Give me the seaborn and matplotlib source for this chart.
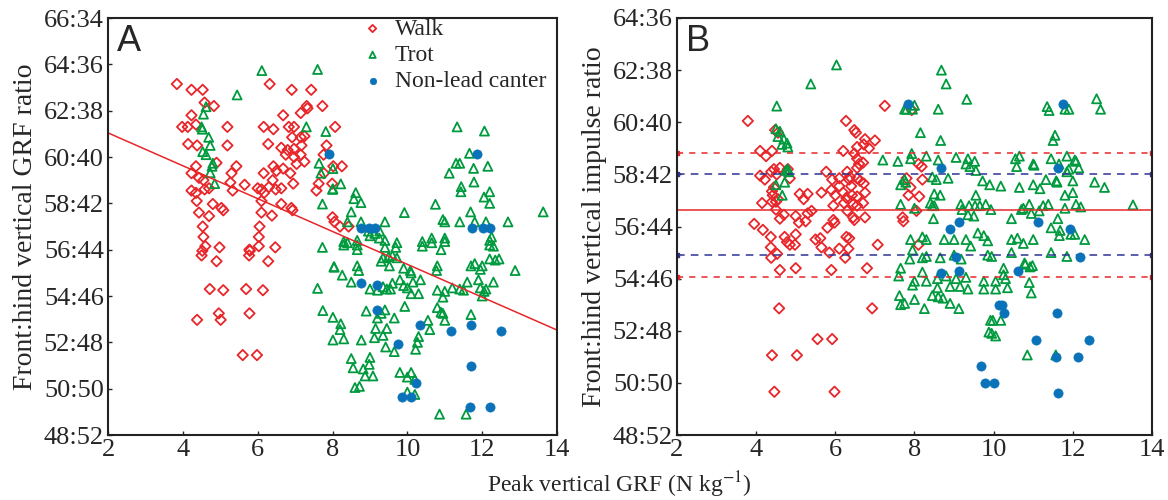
import matplotlib
matplotlib.use("Agg")
import matplotlib.pyplot as plt
import pandas as pd
import seaborn as sns

# ---- panel A: front:hind vertical GRF ratio (front %) ----
walk_a = [
    (3.84, 63.15), (4.23, 62.9), (4.53, 62.9), (6.32, 63.15), (6.91, 62.9), (7.43, 62.9),
    (4.58, 62.35), (4.83, 62.2), (7.73, 62.2), (7.33, 62.1), (7.15, 61.9), (6.68, 61.8),
    (4.23, 61.8), (3.98, 61.3), (4.13, 61.3), (4.35, 61.4), (5.19, 61.3), (6.16, 61.3),
    (6.42, 61.2), (6.83, 61.3), (6.97, 61.3), (8.07, 61.3), (6.92, 60.85), (7.15, 60.85),
    (7.25, 60.9), (4.14, 60.56), (4.38, 60.5), (5.19, 60.5), (6.28, 60.56), (6.63, 60.4),
    (6.8, 60.3), (6.97, 60.35), (7.17, 60.5), (6.75, 60.1), (6.97, 60.0), (7.15, 60.1),
    (7.84, 60.5), (7.76, 60.1), (4.9, 59.75), (5.43, 59.6), (4.35, 59.6), (4.23, 59.3),
    (4.43, 59.1), (4.55, 59.0), (5.3, 59.3), (5.27, 58.9), (5.65, 58.8), (5.33, 58.55),
    (6.16, 59.3), (6.42, 59.6), (6.5, 59.4), (6.68, 59.5), (6.87, 59.3), (6.95, 58.85),
    (7.04, 59.7), (7.25, 59.8), (6.4, 59.0), (6.63, 58.65), (6.48, 58.6), (6.3, 58.7),
    (6.1, 58.6), (6.0, 58.65), (6.17, 58.45), (6.1, 58.1), (4.23, 58.55), (4.35, 58.45),
    (4.58, 58.6), (4.7, 58.65), (4.37, 58.1), (4.8, 57.97), (5.03, 57.8), (5.08, 57.7),
    (4.43, 57.6), (4.7, 57.45), (6.63, 57.97), (6.9, 57.8), (6.93, 57.7), (6.38, 57.47),
    (6.1, 57.6), (7.57, 58.55), (7.63, 58.85), (8.0, 57.4), (8.05, 57.2), (4.53, 57.0),
    (6.05, 57.0), (4.55, 56.55), (6.03, 56.55), (4.6, 56.15), (4.98, 56.1), (5.78, 56.0),
    (6.03, 56.15), (6.47, 56.1), (4.52, 55.95), (4.5, 55.75), (5.79, 55.95), (5.77, 55.75),
    (4.9, 55.5), (6.28, 55.5), (4.72, 54.3), (5.08, 54.25), (5.69, 54.3), (6.14, 54.25),
    (4.96, 53.25), (5.01, 52.97), (4.38, 52.97), (5.78, 53.25), (5.6, 51.45), (5.98, 51.45),
    (7.31, 62.2), (8.02, 59.6), (8.25, 59.6), (7.77, 59.3), (7.99, 58.85), (8.2, 57.0),
    (8.43, 57.0),
]
trot_a = [
    (6.11, 63.73), (7.6, 63.78), (5.45, 62.68), (4.62, 62.17), (4.55, 61.85), (4.5, 61.3),
    (4.52, 61.2), (7.3, 61.3), (7.82, 61.1), (4.69, 60.85), (4.73, 60.5), (4.53, 60.23),
    (4.62, 60.1), (4.8, 59.73), (4.78, 59.6), (4.73, 59.32), (4.85, 58.85), (7.64, 59.73),
    (7.69, 59.3), (8.01, 59.5), (8.01, 58.63), (7.73, 57.97), (8.04, 55.24), (7.6, 54.33),
    (7.74, 53.37), (8.01, 53.08), (8.01, 52.1), (11.33, 61.3), (12.06, 61.12), (11.66, 60.16),
    (11.3, 59.73), (11.4, 59.73), (11.77, 59.51), (12.15, 59.6), (11.12, 59.3), (11.44, 58.72),
    (11.43, 58.5), (11.78, 58.92), (12.2, 58.5), (12.05, 58.27), (12.2, 58.0), (8.22, 58.84),
    (8.0, 58.6), (8.62, 58.46), (8.57, 58.2), (8.76, 58.03), (8.5, 57.63), (9.92, 57.6),
    (10.75, 57.96), (11.69, 57.63), (12.69, 57.2), (13.63, 57.63), (8.4, 57.2), (8.76, 57.2),
    (9.4, 57.2), (10.95, 57.3), (11.0, 57.2), (11.4, 57.2), (11.8, 57.2), (12.1, 57.2),
    (8.96, 56.8), (9.13, 56.7), (9.26, 56.8), (9.4, 56.4), (8.3, 56.35), (8.66, 56.4),
    (9.72, 56.3), (10.4, 56.35), (10.65, 56.5), (11.0, 56.5), (12.2, 56.4), (12.25, 56.55),
    (7.73, 56.1), (8.3, 56.2), (8.4, 56.3), (8.66, 56.2), (8.66, 56.0), (9.0, 56.6),
    (9.25, 56.5), (9.4, 56.1), (9.69, 56.1), (10.4, 56.15), (10.65, 56.3), (10.9, 56.0),
    (11.0, 56.35), (12.2, 56.2), (12.3, 56.15), (8.04, 55.27), (8.26, 54.9), (8.66, 55.3),
    (8.7, 55.1), (9.3, 55.5), (9.35, 55.65), (9.5, 55.7), (9.52, 55.3), (9.6, 55.75),
    (9.72, 55.65), (9.9, 55.2), (10.1, 55.0), (10.08, 55.1), (10.35, 54.7), (10.8, 55.3),
    (10.78, 55.1), (11.7, 55.3), (11.8, 55.4), (11.95, 55.15), (12.0, 55.3), (12.2, 55.6),
    (12.35, 55.55), (12.45, 55.6), (12.88, 55.1), (8.5, 54.6), (9.0, 54.3), (9.2, 54.25),
    (9.35, 54.4), (9.45, 54.3), (9.55, 54.3), (9.6, 54.55), (9.8, 54.7), (9.9, 54.45),
    (10.0, 54.35), (10.15, 54.6), (10.1, 54.1), (10.3, 54.1), (10.8, 54.25), (10.95, 53.95),
    (11.0, 54.2), (11.2, 54.35), (11.4, 54.3), (11.5, 54.25), (11.6, 54.6), (11.9, 54.7),
    (11.95, 54.35), (12.05, 54.2), (12.1, 54.3), (12.3, 54.6), (12.0, 54.0), (8.22, 52.8),
    (8.2, 52.55), (8.3, 52.15), (8.77, 52.1), (8.9, 53.35), (9.2, 53.05), (9.3, 53.25),
    (9.4, 53.4), (9.65, 53.05), (9.93, 53.55), (9.15, 52.6), (9.45, 52.6), (9.12, 52.2),
    (9.35, 52.3), (9.42, 51.8), (9.65, 51.6), (10.55, 52.95), (10.6, 52.55), (10.3, 52.25),
    (10.27, 52.0), (10.22, 51.7), (10.8, 53.5), (10.9, 53.3), (10.95, 53.25), (11.0, 52.95),
    (11.7, 53.2), (8.5, 51.3), (8.55, 50.9), (8.82, 50.85), (8.87, 50.55), (8.98, 51.05),
    (9.0, 51.35), (9.08, 50.55), (8.6, 50.05), (8.72, 50.1), (9.8, 50.7), (10.1, 50.7),
    (10.2, 50.4), (10.0, 50.5), (10.0, 49.85), (10.2, 49.75), (10.86, 48.9), (11.57, 48.9),
]
canter_a = [
    (7.9, 60.13), (11.87, 60.13), (8.76, 56.95), (8.98, 56.95), (9.13, 56.95), (11.72, 56.95),
    (12.02, 56.95), (12.22, 56.95), (8.76, 54.58), (9.2, 54.47), (9.2, 53.4), (10.34, 52.74),
    (11.17, 52.5), (11.69, 52.74), (12.49, 52.5), (9.76, 51.92), (10.23, 50.23), (11.69, 50.98),
    (9.86, 49.63), (10.11, 49.63), (11.68, 49.23), (12.21, 49.23),
]
fit_a_x = [2, 14]
fit_a_y = [61.04, 52.53]

# ---- panel B: front:hind vertical impulse ratio ----
walk_b = [
    (3.79, 60.05), (6.27, 60.05), (7.25, 60.63), (7.93, 60.47), (4.48, 59.7), (4.55, 59.6),
    (6.48, 59.7), (6.52, 59.6), (6.75, 59.35), (6.72, 59.15), (6.85, 59.0), (7.0, 59.3),
    (6.55, 59.05), (6.48, 58.8), (4.1, 58.9), (4.25, 58.7), (4.4, 58.9), (6.2, 58.9),
    (6.55, 58.6), (8.1, 58.4), (8.18, 58.3), (4.45, 58.2), (4.38, 58.1), (4.6, 58.25),
    (4.52, 58.0), (4.1, 57.95), (4.22, 57.8), (4.8, 58.2), (4.85, 57.85), (5.77, 58.1),
    (6.3, 58.1), (6.37, 57.9), (5.92, 57.8), (6.1, 57.85), (5.9, 57.4), (6.1, 57.55),
    (6.0, 57.2), (6.35, 57.8), (6.4, 57.55), (6.55, 57.85), (6.63, 57.75), (6.72, 57.65),
    (6.55, 58.25), (6.7, 58.45), (6.6, 58.4), (6.2, 57.3), (6.42, 57.2), (6.28, 57.1),
    (6.55, 57.15), (6.55, 56.8), (6.75, 57.3), (5.65, 57.3), (5.1, 57.25), (5.3, 57.25),
    (5.2, 57.05), (4.15, 56.9), (4.4, 56.95), (4.5, 56.95), (4.55, 57.05), (4.4, 57.35),
    (4.42, 57.2), (4.45, 57.5), (5.95, 56.8), (6.22, 56.9), (6.45, 56.85), (6.7, 56.9),
    (4.6, 56.3), (4.7, 56.45), (4.5, 56.65), (5.0, 56.4), (5.08, 56.15), (5.25, 56.2),
    (5.3, 56.5), (5.4, 56.6), (6.3, 56.6), (6.45, 56.35), (6.48, 56.25), (6.75, 56.35),
    (5.98, 56.15), (5.95, 56.25), (5.8, 55.95), (3.95, 56.1), (4.17, 55.87), (4.37, 55.6),
    (4.37, 55.2), (4.38, 54.8), (4.53, 54.95), (4.72, 55.6), (4.78, 55.4), (4.85, 55.3),
    (4.98, 55.3), (5.0, 55.7), (5.5, 55.5), (5.62, 55.55), (5.65, 55.2), (5.85, 55.0),
    (6.1, 55.15), (6.25, 54.8), (6.33, 55.15), (6.35, 55.55), (6.28, 55.6), (4.6, 54.33),
    (5.0, 54.4), (5.9, 54.33), (6.8, 54.4), (7.07, 55.3), (8.1, 55.3), (7.72, 56.2),
    (7.7, 56.35), (8.05, 56.6), (7.85, 57.2), (7.9, 57.5), (7.8, 57.85), (8.12, 57.15),
    (8.2, 57.8), (4.58, 52.86), (6.93, 52.86), (5.55, 51.68), (5.92, 51.68), (4.4, 51.06),
    (5.03, 51.06), (4.46, 49.66), (5.98, 49.66),
]
trot_b = [
    (6.03, 62.2), (5.38, 61.47), (4.52, 60.62), (7.75, 60.5), (7.95, 60.5), (8.0, 60.65),
    (4.5, 59.75), (4.6, 59.65), (4.55, 59.45), (4.7, 59.35), (4.78, 59.2), (4.8, 59.05),
    (4.65, 59.15), (7.2, 58.55), (7.58, 58.5), (7.93, 58.8), (4.8, 58.2), (4.75, 58.15),
    (4.82, 58.1), (4.5, 57.6), (4.72, 57.7), (4.66, 57.2), (7.65, 57.6), (7.75, 57.8),
    (7.78, 57.7), (7.65, 56.85), (8.0, 56.7), (8.2, 55.6), (8.2, 54.8), (7.65, 54.4),
    (8.0, 53.9), (8.0, 53.2), (7.75, 53.05), (8.68, 62.0), (8.8, 61.47), (9.32, 60.88),
    (8.6, 60.5), (7.8, 60.5), (11.35, 60.6), (11.4, 60.45), (11.8, 60.5), (11.9, 60.5),
    (12.6, 60.9), (12.7, 60.5), (8.15, 59.6), (8.66, 59.3), (11.55, 59.5), (11.5, 59.3),
    (7.9, 58.6), (8.3, 58.7), (8.6, 58.55), (9.05, 58.65), (9.35, 58.6), (9.52, 58.5),
    (9.4, 58.3), (9.55, 58.15), (9.3, 58.4), (10.55, 58.6), (10.65, 58.7), (10.58, 58.3),
    (11.0, 58.4), (11.02, 58.35), (11.45, 58.6), (11.65, 58.4), (11.85, 58.7), (12.05, 58.55),
    (12.08, 58.5), (12.15, 58.25), (11.9, 58.2), (11.85, 58.1), (8.45, 57.9), (8.55, 57.8),
    (8.85, 57.85), (9.72, 57.75), (9.9, 57.6), (10.18, 57.55), (10.65, 57.5), (11.0, 57.6),
    (11.17, 57.45), (11.32, 57.8), (11.6, 57.7), (11.58, 57.75), (11.8, 57.2), (12.0, 57.3),
    (12.0, 57.75), (12.55, 57.7), (12.8, 57.5), (8.5, 57.25), (8.65, 57.2), (8.4, 56.9),
    (8.45, 56.8), (8.5, 56.8), (9.55, 57.2), (9.17, 56.85), (9.38, 56.8), (9.53, 56.8),
    (9.65, 56.8), (9.8, 56.85), (9.93, 56.65), (9.2, 56.65), (9.35, 56.45), (9.5, 56.4),
    (10.7, 56.65), (10.75, 56.7), (10.9, 56.85), (10.95, 56.5), (11.15, 56.6), (11.25, 56.8),
    (11.38, 56.85), (11.8, 56.7), (12.08, 56.85), (12.2, 56.75), (13.52, 56.83), (8.48, 56.3),
    (10.45, 56.3), (11.62, 56.3), (11.45, 55.95), (11.68, 55.85), (11.66, 55.65), (11.95, 55.7),
    (12.05, 55.7), (12.3, 55.5), (7.9, 55.5), (8.3, 55.5), (8.75, 55.5), (9.0, 55.5),
    (9.3, 55.5), (9.6, 55.75), (9.75, 55.65), (9.85, 55.45), (10.45, 55.5), (10.6, 55.55),
    (10.75, 55.35), (11.0, 55.5), (7.95, 55.1), (7.88, 54.75), (8.3, 54.85), (8.65, 54.8),
    (9.0, 54.9), (9.18, 54.75), (9.42, 55.25), (9.85, 54.9), (9.95, 54.85), (10.45, 55.0),
    (10.78, 54.6), (11.45, 55.0), (11.85, 54.85), (7.6, 54.1), (8.2, 54.25), (8.3, 53.9),
    (8.58, 54.0), (8.8, 54.1), (9.05, 54.0), (9.3, 54.05), (9.75, 53.9), (10.05, 53.9),
    (10.3, 54.0), (10.25, 54.4), (10.25, 54.15), (10.9, 53.85), (10.92, 54.45), (10.98, 54.5),
    (10.8, 54.55), (7.62, 53.35), (8.45, 53.35), (8.6, 53.3), (7.95, 53.75), (7.65, 53.0),
    (8.25, 52.85), (8.58, 53.65), (8.72, 53.25), (8.9, 53.05), (9.12, 52.85), (8.9, 53.7),
    (9.15, 53.7), (9.35, 53.6), (9.75, 53.6), (10.05, 53.6), (10.35, 53.65), (10.95, 53.45),
    (9.92, 52.4), (9.98, 52.4), (10.18, 52.4), (9.88, 51.95), (9.95, 51.9), (10.05, 51.8),
    (10.85, 51.07), (11.57, 51.07),
]
canter_b = [
    (7.84, 60.7), (11.75, 60.7), (8.68, 58.23), (11.62, 58.23), (9.13, 56.16), (8.9, 55.9),
    (11.12, 56.16), (11.94, 55.9), (9.05, 54.82), (12.17, 54.82), (8.68, 54.23), (9.13, 54.3),
    (10.62, 54.3), (10.14, 52.99), (10.22, 52.99), (10.25, 52.69), (11.6, 52.7), (11.07, 51.64),
    (12.4, 51.64), (11.57, 50.98), (12.13, 50.98), (9.69, 50.65), (9.78, 50.0), (10.0, 50.0),
    (11.63, 49.62),
]
mean_b = 56.63
sd_b = [58.01, 54.91]
range_b = [58.82, 54.06]

RED = "#e8262a"
GREEN = "#009a3e"
BLUE = "#0a72b8"
NAVY = "#2e3192"

sns.set_style("ticks")
plt.rcParams["font.family"] = ["Liberation Serif", "DejaVu Serif"]
plt.rcParams["mathtext.fontset"] = "stix"

fig = plt.figure(figsize=(11.68, 5.0), dpi=100)
ax_a = fig.add_axes([0.0925, 0.13, 0.3844, 0.834])
ax_b = fig.add_axes([0.5796, 0.13, 0.4067, 0.834])


def draw_points(ax, walk, trot, canter):
    for pts, lab, mk, col, s in [(walk, "Walk", "D", RED, 28),
                                 (trot, "Trot", "^", GREEN, 42)]:
        df = pd.DataFrame(pts, columns=["x", "y"])
        sns.scatterplot(data=df, x="x", y="y", marker=mk, color=col, facecolor="none",
                        edgecolor=col, linewidth=1.3, s=s, label=lab, ax=ax)
    df = pd.DataFrame(canter, columns=["x", "y"])
    sns.scatterplot(data=df, x="x", y="y", marker="o", color=BLUE, edgecolor=BLUE,
                    linewidth=0.5, s=44, label="Non-lead canter", ax=ax, zorder=3)


draw_points(ax_a, walk_a, trot_a, canter_a)
sns.lineplot(x=fit_a_x, y=fit_a_y, color=RED, lw=1.1, ax=ax_a, zorder=1)

draw_points(ax_b, walk_b, trot_b, canter_b)
ax_b.axhline(mean_b, color=RED, lw=1.1, zorder=1)
for v in sd_b:
    ax_b.plot([2, 14], [v, v], color=NAVY, ls=(0, (5, 4)), lw=1.1, marker="s", ms=3, zorder=1)
for v in range_b:
    ax_b.plot([2, 14], [v, v], color=RED, ls=(0, (4, 4)), lw=1.1, marker="s", ms=3, zorder=1)


def fmt_ratio(ax, lo, hi):
    ticks = list(range(lo, hi + 1, 2))
    ax.set_ylim(lo, hi)
    ax.set_yticks(ticks)
    ax.set_yticklabels([f"{t}:{100 - t}" for t in ticks])
    ax.set_xlim(2, 14)
    ax.set_xticks(range(2, 15, 2))
    ax.tick_params(direction="in", length=3, labelsize=19, width=1, pad=3)
    for sp in ax.spines.values():
        sp.set_visible(True)
        sp.set_linewidth(1.5)
        sp.set_color("#222222")
    ax.set_xlabel("")


fmt_ratio(ax_a, 48, 66)
fmt_ratio(ax_b, 48, 64)
ax_a.set_ylabel("Front:hind vertical GRF ratio", fontsize=20, labelpad=4)
ax_b.set_ylabel("Front:hind vertical impulse ratio", fontsize=20, labelpad=4)

ax_a.text(0.02, 0.985, "A", transform=ax_a.transAxes, fontsize=26, va="top", ha="left",
          family=["Liberation Sans", "DejaVu Sans"])
ax_b.text(0.02, 0.985, "B", transform=ax_b.transAxes, fontsize=26, va="top", ha="left",
          family=["Liberation Sans", "DejaVu Sans"])

ax_a.legend(loc="upper right", bbox_to_anchor=(1.0, 1.025), frameon=False, fontsize=17,
            handletextpad=0.2, borderaxespad=0.05, labelspacing=0.2, markerscale=0.7,
            handlelength=1.5)
ax_b.get_legend().remove()

fig.text(0.53, 0.03, "Peak vertical GRF (N kg$^{-1}$)", ha="center", va="center", fontsize=17)

fig.savefig("out.png", dpi=100)
